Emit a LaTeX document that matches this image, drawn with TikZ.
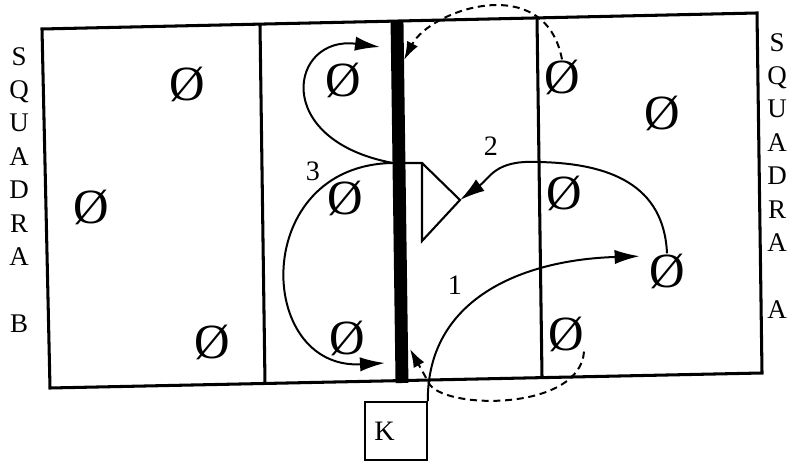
\documentclass[tikz,border=0pt]{standalone}
\usepackage{fontspec}
\setmainfont{Liberation Serif}
\usetikzlibrary{arrows.meta}

\begin{document}
\begin{tikzpicture}[x=0.03cm, y=-0.03cm,
    every node/.style={inner sep=0pt},
    >={Latex[length=7.5mm, width=4.3mm]},
    player/.style={font=\fontsize{42}{42}\selectfont},
    side/.style={font=\fontsize{23}{28.5}\selectfont, align=center, anchor=north},
    num/.style={font=\fontsize{24}{24}\selectfont},
    court/.style={line width=2.6pt},
    arr/.style={->, line width=1.7pt},
    darr/.style={-{Latex[length=5.5mm, width=3.6mm]}, line width=1.7pt, dash pattern=on 6pt off 4pt}
  ]
  \useasboundingbox (0,0) rectangle (811,461);

  \draw[court] (42,29) -- (757,13) -- (762,373) -- (50,388) -- cycle;
  \draw[court] (260,25) -- (265,384);
  \draw[court] (537,18) -- (542,377);
  \draw[line width=11pt] (397,21) -- (402,383);
  \draw[line width=1.8pt] (404,163) -- (422,163) -- (460,200) -- (422,241) -- (422,163);

  \node[side] (sqb) at (19,47) {S\\Q\\U\\A\\D\\R\\A\\[28.5pt]B};
  \node[side] (sqa) at (777,33) {S\\Q\\U\\A\\D\\R\\A\\[28.5pt]A};

  \node[player] (b1) at (187,84) {Ø};
  \node[player] (b2) at (91,207) {Ø};
  \node[player] (b3) at (212,342) {Ø};
  \node[player] (b4) at (343,80) {Ø};
  \node[player] (b5) at (345,198) {Ø};
  \node[player] (b6) at (347,338) {Ø};
  \node[player] (a1) at (562,77) {Ø};
  \node[player] (a2) at (564,193) {Ø};
  \node[player] (a3) at (566,334) {Ø};
  \node[player] (a4) at (662,113) {Ø};
  \node[player] (a5) at (667,271) {Ø};

  \node[draw, line width=1.4pt, minimum width=1.86cm, minimum height=1.74cm,
    text width=1.3cm, align=left, font=\fontsize{24}{24}\selectfont] (kbox) at (396,431) {K};

  \coordinate (tip) at (460,200);
  \coordinate (t3) at (380,47);
  \coordinate (m3) at (393,163);
  \coordinate (u3) at (385,363);
  \coordinate (nt) at (404,60);
  \coordinate (nb) at (410,349);

  \draw[arr, shorten >=8pt] (kbox.north east) .. controls (427,300) and (520,260) .. (a5.140);
  \draw[arr] (a5.north) .. controls (664,185) and (610,163) .. (537,162)
    .. controls (495,160) and (490,178) .. (tip);
  \draw[arr, <->] (t3) .. controls (290,35) and (270,140) .. (m3)
    .. controls (250,165) and (255,370) .. (u3);
  \draw[darr] (a1.north) .. controls (545,-30) and (430,10) .. (nt);
  \draw[darr] (a3.south east) .. controls (580,410) and (450,410) .. (430,385) -- (nb);

  \node[num] (n1) at (455,285) {1};
  \node[num] (n2) at (491,146) {2};
  \node[num] (n3) at (313,171) {3};
\end{tikzpicture}
\end{document}
